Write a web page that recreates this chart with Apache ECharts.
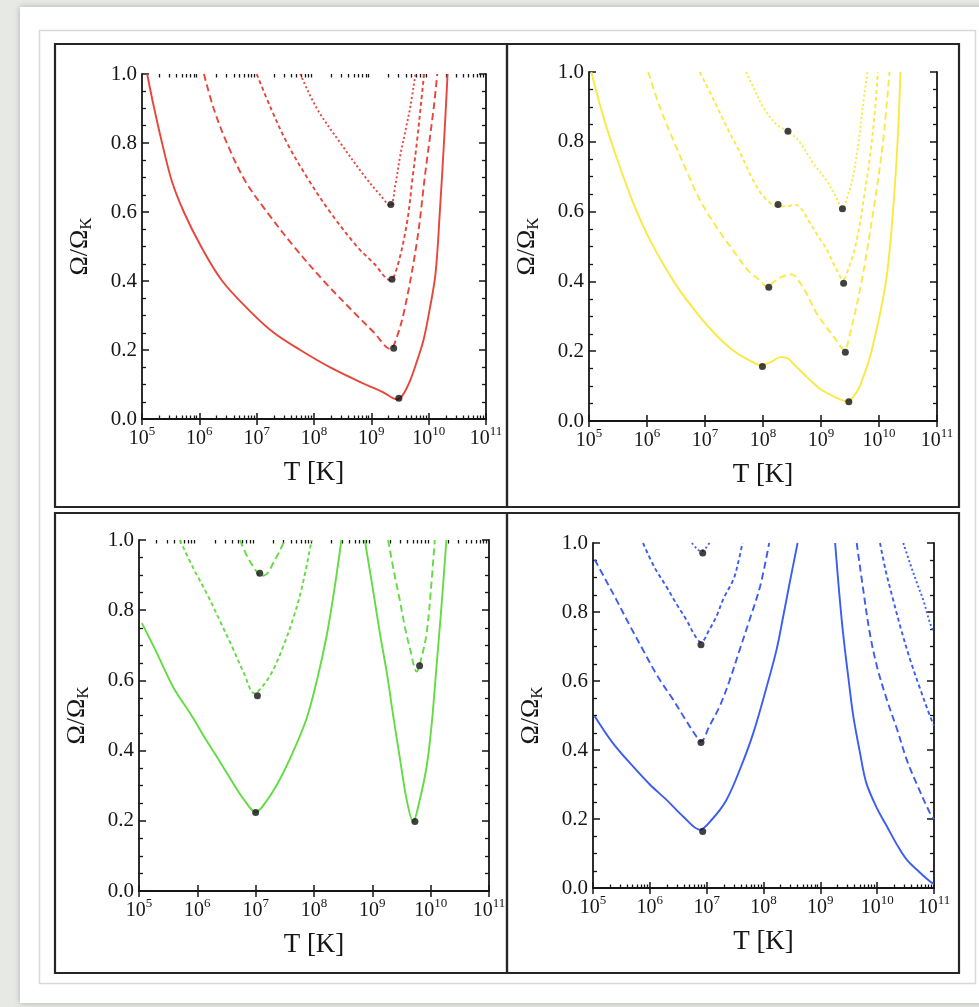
<!DOCTYPE html>
<html>
<head>
<meta charset="utf-8">
<script src="https://cdn.jsdelivr.net/npm/echarts@6/dist/echarts.min.js"></script>
<style>
html, body { margin: 0; padding: 0; background: #e7e9e5; }
#chart { width: 979px; height: 1007px; }
</style>
</head>
<body>
<div id="chart"></div>
<script>
// every pair is [log10(T / K), Omega / Omega_K]
// top left (red)
const redSolid = [[5.09,1.0],[5.2,0.91],[5.35,0.8],[5.52,0.69],[5.73,0.6],[6.03,0.5],[6.4,0.4],[6.9,0.31],[7.3,0.25],[7.76,0.2],[8.3,0.148],[8.9,0.1],[9.2,0.078],[9.45,0.057],[9.55,0.07],[9.68,0.113],[9.8,0.17],[9.91,0.229],[10.02,0.32],[10.12,0.422],[10.2,0.615],[10.27,0.81],[10.33,1.0]]
const redDash = [[6.08,1.0],[6.25,0.9],[6.48,0.8],[6.8,0.69],[7.18,0.6],[7.65,0.5],[8.17,0.4],[8.75,0.3],[9.05,0.25],[9.33,0.203],[9.45,0.24],[9.59,0.326],[9.8,0.519],[9.94,0.712],[10.09,0.905],[10.15,1.0]]
const redShortDash = [[7.0,1.0],[7.25,0.9],[7.53,0.8],[7.88,0.7],[8.28,0.6],[8.75,0.5],[9.05,0.45],[9.33,0.402],[9.45,0.44],[9.62,0.567],[9.72,0.7],[9.8,0.81],[9.87,0.92],[9.92,1.0]]
const redDot = [[7.76,1.0],[8.05,0.9],[8.46,0.8],[8.9,0.7],[9.15,0.65],[9.33,0.618],[9.42,0.68],[9.5,0.76],[9.6,0.84],[9.68,0.905],[9.77,1.0]]
const redMarks = [[9.48,0.06],[9.39,0.205],[9.36,0.405],[9.34,0.622]]

// top right (yellow)
const yellowSolid = [[5.04,1.0],[5.25,0.87],[5.47,0.758],[5.75,0.63],[6.05,0.519],[6.5,0.39],[6.91,0.299],[7.2,0.245],[7.48,0.203],[7.75,0.175],[7.97,0.16],[8.15,0.17],[8.3,0.183],[8.42,0.18],[8.55,0.16],[8.75,0.127],[9.0,0.09],[9.25,0.068],[9.45,0.056],[9.56,0.07],[9.67,0.1],[9.87,0.2],[10.12,0.4],[10.24,0.6],[10.32,0.8],[10.37,1.0]]
const yellowDash = [[6.02,1.0],[6.22,0.9],[6.45,0.806],[6.7,0.71],[6.91,0.634],[7.2,0.555],[7.48,0.49],[7.75,0.43],[7.94,0.404],[8.07,0.385],[8.2,0.4],[8.35,0.415],[8.5,0.42],[8.62,0.4],[8.75,0.366],[8.92,0.31],[9.09,0.27],[9.25,0.235],[9.4,0.203],[9.5,0.25],[9.7,0.4],[9.9,0.6],[10.07,0.8],[10.18,1.0]]
const yellowShortDash = [[6.91,1.0],[7.15,0.92],[7.37,0.844],[7.6,0.77],[7.83,0.69],[8.0,0.645],[8.2,0.618],[8.4,0.615],[8.55,0.62],[8.65,0.61],[8.8,0.571],[8.95,0.53],[9.09,0.494],[9.25,0.44],[9.38,0.405],[9.48,0.44],[9.61,0.513],[9.75,0.65],[9.84,0.752],[9.92,0.87],[9.98,1.0]]
const yellowDot = [[7.71,1.0],[7.85,0.95],[8.0,0.9],[8.23,0.85],[8.43,0.83],[8.63,0.8],[8.86,0.74],[9.09,0.69],[9.25,0.645],[9.37,0.61],[9.47,0.65],[9.55,0.70],[9.65,0.8],[9.72,0.9],[9.8,1.0]]
const yellowMarks = [[7.99,0.156],[8.10,0.383],[8.26,0.62],[8.43,0.83],[9.48,0.055],[9.42,0.197],[9.39,0.395],[9.37,0.608]]

// bottom left (green)
const greenSolidLow = [[5.05,0.763],[5.3,0.68],[5.59,0.58],[5.9,0.5],[6.16,0.428],[6.4,0.365],[6.62,0.305],[6.8,0.26],[7.0,0.225],[7.2,0.26],[7.42,0.32],[7.65,0.4],[7.87,0.49],[8.05,0.6],[8.22,0.73],[8.35,0.86],[8.47,1.0]]
const greenSolidHigh = [[8.87,1.0],[9.0,0.87],[9.13,0.734],[9.25,0.62],[9.36,0.497],[9.48,0.37],[9.59,0.259],[9.7,0.197],[9.8,0.25],[9.93,0.354],[10.02,0.48],[10.1,0.64],[10.18,0.8],[10.27,1.0]]
const greenDashLow = [[5.70,1.0],[5.93,0.92],[6.16,0.848],[6.4,0.765],[6.62,0.687],[6.8,0.62],[6.98,0.563],[7.15,0.59],[7.3,0.63],[7.48,0.7],[7.65,0.78],[7.8,0.87],[7.96,1.0]]
const greenDashHigh = [[9.27,1.0],[9.37,0.91],[9.47,0.829],[9.56,0.75],[9.65,0.687],[9.76,0.625],[9.85,0.67],[9.93,0.734],[10.0,0.85],[10.07,1.0]]
const greenDotLow = [[6.73,1.0],[6.85,0.955],[6.96,0.924],[7.1,0.897],[7.2,0.905],[7.3,0.934],[7.4,0.965],[7.5,1.0]]
const greenMarks = [[7.0,0.224],[9.73,0.198],[7.03,0.556],[7.07,0.905],[9.81,0.642]]

// bottom right (blue)
const blueSolidLow = [[5.03,0.498],[5.35,0.42],[5.70,0.353],[6.0,0.3],[6.29,0.256],[6.6,0.205],[6.88,0.169],[7.1,0.2],[7.35,0.256],[7.6,0.35],[7.82,0.449],[8.05,0.58],[8.23,0.691],[8.35,0.79],[8.46,0.884],[8.6,1.0]]
const blueSolidHigh = [[9.26,1.0],[9.33,0.86],[9.4,0.739],[9.5,0.6],[9.58,0.498],[9.7,0.39],[9.81,0.304],[10.0,0.23],[10.17,0.179],[10.35,0.125],[10.52,0.082],[10.75,0.045],[10.93,0.019],[11.0,0.012]]
const blueDashLow = [[5.03,0.952],[5.2,0.9],[5.41,0.836],[5.65,0.76],[5.88,0.69],[6.15,0.61],[6.41,0.546],[6.62,0.49],[6.82,0.439],[6.9,0.425],[7.05,0.47],[7.23,0.527],[7.4,0.6],[7.58,0.69],[7.76,0.78],[7.94,0.874],[8.1,1.0]]
const blueDashHigh = [[9.64,1.0],[9.75,0.87],[9.87,0.739],[10.0,0.64],[10.17,0.546],[10.35,0.46],[10.52,0.372],[10.7,0.3],[10.93,0.217],[11.0,0.2]]
const blueShortDashLow = [[5.88,1.0],[6.08,0.93],[6.29,0.874],[6.48,0.82],[6.64,0.778],[6.8,0.73],[6.9,0.712],[7.05,0.75],[7.17,0.787],[7.3,0.84],[7.47,0.894],[7.55,0.94],[7.63,1.0]]
const blueShortDashHigh = [[10.05,1.0],[10.15,0.92],[10.28,0.836],[10.42,0.75],[10.58,0.662],[10.75,0.58],[10.93,0.498],[11.0,0.47]]
const blueDotLow = [[6.74,1.0],[6.82,0.985],[6.9,0.976],[6.98,0.985],[7.05,1.0]]
const blueDotHigh = [[10.46,1.0],[10.58,0.94],[10.7,0.884],[10.82,0.83],[10.93,0.768],[11.0,0.74]]
const blueMarks = [[6.93,0.164],[6.90,0.422],[6.90,0.705],[6.93,0.971]]

// axes
const xTickExponents = [5, 6, 7, 8, 9, 10, 11]
const yTicks = [0, 0.2, 0.4, 0.6, 0.8, 1.0]
const minorMultipliers = [2, 3, 4, 5, 6, 7, 8, 9]

const ink = '#161616'
const serif = '"Liberation Serif", "DejaVu Serif", serif'
const SOLID = 'solid', DASH = [7, 4], SHORT = [4, 3], DOT = [2, 2.5]

const panels = [
  { rect: [142, 74, 344, 345], color: '#e8453b', minorBottom: true, minorTop: true,
    lines: [[redSolid, SOLID], [redDash, DASH], [redShortDash, SHORT], [redDot, DOT]], marks: redMarks },
  { rect: [589, 72, 348, 349], color: '#fae943', minorBottom: false, minorTop: false,
    lines: [[yellowSolid, SOLID], [yellowDash, DASH], [yellowShortDash, SHORT], [yellowDot, DOT]], marks: yellowMarks },
  { rect: [139, 540, 350, 351], color: '#63dc43', minorBottom: false, minorTop: true,
    lines: [[greenSolidLow, SOLID], [greenSolidHigh, SOLID], [greenDashLow, SHORT], [greenDashHigh, DASH], [greenDotLow, DASH]], marks: greenMarks },
  { rect: [593, 543, 341, 345], color: '#3c5cf2', minorBottom: true, minorTop: false,
    lines: [[blueSolidLow, SOLID], [blueSolidHigh, SOLID], [blueDashLow, DASH], [blueDashHigh, DASH],
            [blueShortDashLow, SHORT], [blueShortDashHigh, SHORT], [blueDotLow, DOT], [blueDotHigh, DOT]], marks: blueMarks },
]

const minorExps = []
xTickExponents.slice(0, -1).forEach(n => minorMultipliers.forEach(k => minorExps.push(n + Math.log10(k))))

const toT = ([e, w]) => [Math.pow(10, e), w]

const grid = [], xAxis = [], yAxis = [], series = []

function majorX(gi, pos, labels) {
  return {
    type: 'log', logBase: 10, gridIndex: gi, position: pos,
    min: Math.pow(10, xTickExponents[0]), max: Math.pow(10, xTickExponents[xTickExponents.length - 1]),
    splitNumber: xTickExponents.length - 1,
    axisLine: { show: true, lineStyle: { color: ink, width: 1.8 } },
    axisTick: { show: true, inside: true, length: 6, lineStyle: { color: ink, width: 1.5 } },
    splitLine: { show: false },
    axisLabel: labels ? {
      margin: 6, color: ink,
      formatter: v => '{b|10}{s|' + Math.round(Math.log10(v)) + '}',
      rich: {
        b: { fontFamily: serif, fontSize: 20, lineHeight: 24, color: ink, verticalAlign: 'bottom' },
        s: { fontFamily: serif, fontSize: 13, lineHeight: 14, color: ink, verticalAlign: 'top' }
      }
    } : { show: false },
    name: labels ? 'T [K]' : '', nameLocation: 'middle', nameGap: 39,
    nameTextStyle: { fontFamily: serif, fontSize: 27, lineHeight: 30, color: ink }
  }
}

function minorX(gi, pos, show) {
  return {
    type: 'value', gridIndex: gi, position: pos, min: xTickExponents[0], max: xTickExponents[xTickExponents.length - 1],
    axisLine: { show: false }, axisLabel: { show: false }, splitLine: { show: false },
    axisTick: { show: show, inside: true, length: 3.5, customValues: minorExps, lineStyle: { color: ink, width: 1.3 } }
  }
}

function mainY(gi, pos, labels) {
  return {
    type: 'value', gridIndex: gi, position: pos, min: yTicks[0], max: yTicks[yTicks.length - 1], interval: 0.2,
    axisLine: { show: true, lineStyle: { color: ink, width: 1.8 } },
    axisTick: { show: true, inside: true, length: 7, lineStyle: { color: ink, width: 1.5 } },
    minorTick: { show: true, splitNumber: 4, length: 4, lineStyle: { color: ink, width: 1.3 } },
    splitLine: { show: false },
    axisLabel: labels ? { margin: 5, fontFamily: serif, fontSize: 21, color: ink, formatter: v => v.toFixed(1) } : { show: false },
    name: labels ? '{a|Ω/Ω}{k|K}' : '', nameLocation: 'middle', nameGap: 47,
    nameTextStyle: {
      color: ink,
      rich: {
        a: { fontFamily: serif, fontSize: 26, lineHeight: 28, color: ink, verticalAlign: 'top' },
        k: { fontFamily: serif, fontSize: 17, lineHeight: 17, color: ink, verticalAlign: 'bottom' }
      }
    }
  }
}

panels.forEach((p, i) => {
  const [left, top, width, height] = p.rect
  const gMain = grid.length
  grid.push({ left, top, width, height })
  grid.push({ left, top, width, height })
  const gMinor = gMain + 1

  const xMain = xAxis.length
  xAxis.push(majorX(gMain, 'bottom', true))
  xAxis.push(majorX(gMain, 'top', false))
  xAxis.push(minorX(gMinor, 'bottom', p.minorBottom))
  xAxis.push(minorX(gMinor, 'top', p.minorTop))

  const yMain = yAxis.length
  yAxis.push(mainY(gMain, 'left', true))
  yAxis.push(mainY(gMain, 'right', false))
  yAxis.push({ type: 'value', gridIndex: gMinor, min: 0, max: 1, show: false })

  p.lines.forEach(([data, dash]) => {
    series.push({
      type: 'line', xAxisIndex: xMain, yAxisIndex: yMain, data: data.map(toT),
      showSymbol: false, smooth: 0.35, silent: true,
      lineStyle: { color: p.color, width: 1.9, type: dash }
    })
  })
  series.push({
    type: 'scatter', xAxisIndex: xMain, yAxisIndex: yMain, data: p.marks.map(toT),
    symbolSize: 7, itemStyle: { color: '#111' }, z: 5, silent: true
  })
})

const frame = { stroke: '#262626', lineWidth: 2.2, fill: 'none' }
const graphic = [
  { type: 'rect', shape: { x: 20, y: 7, width: 970, height: 996 }, style: { fill: '#fff', shadowBlur: 6, shadowColor: 'rgba(0,0,0,0.25)' }, z: -10 },
  { type: 'rect', shape: { x: 39.5, y: 30.5, width: 936, height: 953 }, style: { fill: 'none', stroke: '#d9d9d9', lineWidth: 1.5 }, z: -9 },
  { type: 'rect', shape: { x: 55, y: 44, width: 452, height: 463 }, style: frame, z: -8 },
  { type: 'rect', shape: { x: 507, y: 44, width: 452, height: 463 }, style: frame, z: -8 },
  { type: 'rect', shape: { x: 55, y: 513, width: 452, height: 460 }, style: frame, z: -8 },
  { type: 'rect', shape: { x: 507, y: 513, width: 452, height: 460 }, style: frame, z: -8 },
]

const chart = echarts.init(document.getElementById('chart'))
chart.setOption({
  animation: false,
  backgroundColor: 'transparent',
  graphic, grid, xAxis, yAxis, series
})
</script>
</body>
</html>
